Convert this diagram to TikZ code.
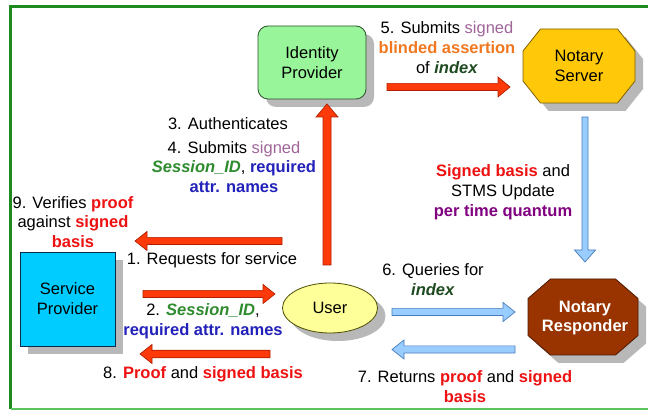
\documentclass[tikz,border=0pt]{standalone}
\usepackage{fontspec}
\setmainfont{Liberation Sans}
\usetikzlibrary{calc,shapes.geometric,shadows}
\definecolor{frameg}{HTML}{1F8A1F}
\definecolor{frameg2}{HTML}{5CC45C}
\definecolor{redfill}{HTML}{FF3A0A}
\definecolor{redline}{HTML}{B02000}
\definecolor{bluefill}{HTML}{99CCFF}
\definecolor{blueline}{HTML}{4A7EBB}
\definecolor{idpfill}{HTML}{99F599}
\definecolor{idpline}{HTML}{2F4F2F}
\definecolor{nsfill}{HTML}{FFC90A}
\definecolor{nsline}{HTML}{7F6000}
\definecolor{spfill}{HTML}{00CCFF}
\definecolor{spline}{HTML}{0A2A4A}
\definecolor{userfill}{HTML}{FFFF99}
\definecolor{userline}{HTML}{4D4D00}
\definecolor{nrfill}{HTML}{993300}
\definecolor{nrline}{HTML}{4D1A00}
\definecolor{shadowg}{HTML}{B8B8B8}
\definecolor{sigpurple}{HTML}{A0669A}
\definecolor{orangeb}{HTML}{F07820}
\definecolor{dgreen}{HTML}{1E4A20}
\definecolor{sgreen}{HTML}{2E8B2E}
\definecolor{blueb}{HTML}{2222BB}
\definecolor{redb}{HTML}{EE1111}
\definecolor{purpleb}{HTML}{800080}
\newcommand\blockarrow[6]{%
  \coordinate (bah) at ($(#3)!#6!(#2)$);
  \draw[#1] ($(#2)!#4!90:(#3)$) -- ($(bah)!#4!90:(#3)$) -- ($(bah)!#5!90:(#3)$) -- (#3)
    -- ($(bah)!#5!-90:(#3)$) -- ($(bah)!#4!-90:(#3)$) -- ($(#2)!#4!-90:(#3)$) -- cycle;}
\newcommand\sig[1]{\textcolor{sigpurple}{#1}}
\newcommand\rb[1]{\textcolor{redb}{\textbf{#1}}}
\newcommand\bb[1]{\textcolor{blueb}{\textbf{#1}}}
\newcommand\sid{\textcolor{sgreen}{\textbf{\textit{Session\_ID}}}}
\newcommand\idx{\textcolor{dgreen}{\textbf{\textit{index}}}}
\begin{document}
\begin{tikzpicture}[x=1pt,y=-1pt,
  every node/.style={font=\fontsize{16.5}{19.8}\selectfont, align=center, inner sep=0pt},
  shad/.style={drop shadow={shadow xshift=8pt, shadow yshift=-8pt, fill=shadowg, opacity=1}},
  redarr/.style={fill=redfill, draw=redline, line width=0.7pt, line join=miter},
  bluearr/.style={fill=bluefill, draw=blueline, line width=0.7pt, line join=miter},
  lbl/.style={text=black}]
\useasboundingbox (0,0) rectangle (648,411);
\fill[white] (0,0) rectangle (648,411);
% frame
\draw[frameg, line width=3pt] (660,6.5) -- (10.5,6.5) -- (10.5,409);
\draw[frameg2, line width=2pt] (10.5,409.5) -- (660,409.5);

% Identity Provider
\node[shad, draw=idpline, fill=idpfill, rounded corners=10pt, line width=0.8pt,
  minimum width=108pt, minimum height=73pt] (idp) at (312,62.5) {Identity\\Provider};
% Notary Server
\draw[shad, draw=nsline, fill=nsfill, line width=0.8pt, shift={(579,66)}]
  (-38.5,-37) -- (38.5,-37) -- (56,-15) -- (56,15) -- (38.5,37) -- (-38.5,37) -- (-56,15) -- (-56,-15) -- cycle;
\node (ns) at (579,66) {Notary\\Server};
% Service Provider
\node[shad, draw=spline, fill=spfill, line width=0.8pt,
  minimum width=95pt, minimum height=94pt] (sp) at (67.5,299) {Service\\Provider};
% User
\node[shad, ellipse, draw=userline, fill=userfill, line width=0.8pt,
  minimum width=95pt, minimum height=50pt] (user) at (330,308) {User};
% Notary Responder
\draw[shad, draw=nrline, fill=nrfill, line width=0.8pt, shift={(583,317)}]
  (-32.5,-38) -- (32.5,-38) -- (55,-18.5) -- (55,18.5) -- (32.5,38) -- (-32.5,38) -- (-55,18.5) -- (-55,-18.5) -- cycle;
\node[text=white, font=\fontsize{16.5}{19.8}\selectfont\bfseries] (nr) at (585,318) {Notary\\Responder};

% arrow end points
\coordinate (a5s) at (387,87);   \coordinate (a5e) at (510,87);
\coordinate (aus) at (327,265);  \coordinate (aue) at (327,104);
\coordinate (a1s) at (282,241);  \coordinate (a1e) at (135,241);
\coordinate (a2s) at (143,294);  \coordinate (a2e) at (275,294);
\coordinate (a8s) at (270,354);  \coordinate (a8e) at (140,354);
\coordinate (ads) at (585,117);  \coordinate (ade) at (585,262);
\coordinate (a6s) at (392,312);  \coordinate (a6e) at (515,312);
\coordinate (a7s) at (515,349.5);\coordinate (a7e) at (392,349.5);

\blockarrow{redarr}{a5s}{a5e}{3.6pt}{10pt}{12pt}
\blockarrow{redarr}{aus}{aue}{4pt}{11pt}{13pt}
\blockarrow{redarr}{a1s}{a1e}{3.6pt}{9.5pt}{12pt}
\blockarrow{redarr}{a2s}{a2e}{3.6pt}{9.5pt}{12pt}
\blockarrow{redarr}{a8s}{a8e}{3.8pt}{9.5pt}{12pt}
\blockarrow{bluearr}{ads}{ade}{3pt}{10.5pt}{12pt}
\blockarrow{bluearr}{a6s}{a6e}{3.6pt}{9.5pt}{12pt}
\blockarrow{bluearr}{a7s}{a7e}{3.6pt}{9.5pt}{12pt}

% labels
\node[lbl] (t5) at (447,47.5) {5. Submits \sig{signed}\\\textcolor{orangeb}{\textbf{blinded assertion}}\\of \idx};
\node[lbl] (t3) at (228,124) {3. Authenticates};
\node[lbl] (t4) at (234,167) {4. Submits \sig{signed}\\\sid, \bb{required}\\\bb{attr. names}};
\node[lbl] (t9) at (73,222) {9. Verifies \rb{proof}\\against \rb{signed}\\\rb{basis}};
\node[lbl] (t1) at (212,260) {1. Requests for service};
\node[lbl] (t2) at (203,321) {2. \sid,\\\bb{required attr. names}};
\node[lbl] (t8) at (203,374) {8. \rb{Proof} and \rb{signed basis}};
\node[lbl] (t6) at (433,279.5) {6. Queries for\\\idx};
\node[lbl] (t7) at (465,387) {7. Returns \rb{proof} and \rb{signed}\\\rb{basis}};
\node[lbl] (ts) at (503,192.5) {\rb{Signed basis} and\\STMS Update\\\textcolor{purpleb}{\textbf{per time quantum}}};
\end{tikzpicture}
\end{document}
